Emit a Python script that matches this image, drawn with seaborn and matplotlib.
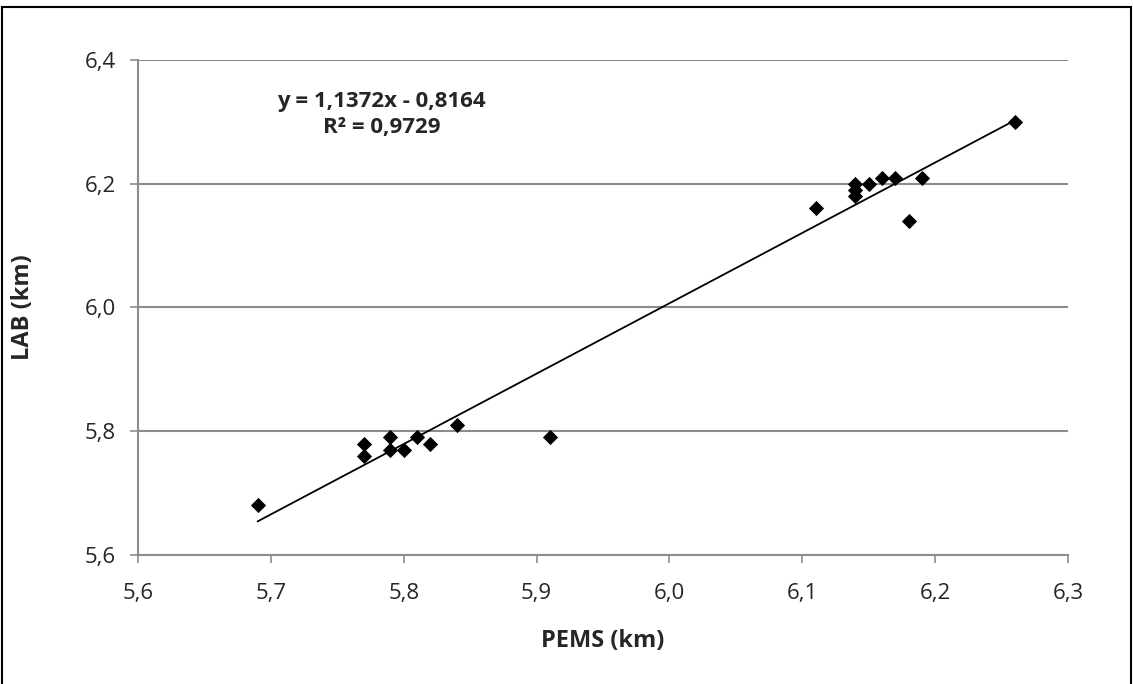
import numpy as np
import pandas as pd
import matplotlib
matplotlib.use("Agg")
import matplotlib.pyplot as plt
import seaborn as sns
from matplotlib.ticker import FuncFormatter, MultipleLocator
from matplotlib.patches import Rectangle

pems = [5.69, 5.77, 5.77, 5.79, 5.79, 5.80, 5.81, 5.82, 5.84, 5.91,
        6.11, 6.14, 6.14, 6.14, 6.15, 6.16, 6.17, 6.18, 6.19, 6.26]
lab = [5.68, 5.78, 5.76, 5.79, 5.77, 5.77, 5.79, 5.78, 5.81, 5.79,
       6.16, 6.20, 6.19, 6.18, 6.20, 6.21, 6.21, 6.14, 6.21, 6.30]
slope = 1.1372
intercept = -0.8164
eq_text = "y = 1,1372x - 0,8164"
r2_text = "R² = 0,9729"

df = pd.DataFrame({"PEMS": pems, "LAB": lab})

sns.set_style("white")
plt.rcParams['font.family'] = ['Open Sans', 'DejaVu Sans']

fig = plt.figure(figsize=(11.33, 6.84), dpi=100)
ax = fig.add_axes([0.1218, 0.1886, 0.9426 - 0.1218, 0.9123 - 0.1886])

sns.scatterplot(data=df, x="PEMS", y="LAB", marker="D", s=60, color="black",
                edgecolor="black", linewidth=0, ax=ax, zorder=3)
xs = np.array([min(pems), max(pems)])
sns.lineplot(x=xs, y=slope * xs + intercept, color="black", linewidth=1.3, ax=ax, zorder=2)

ax.set_xlim(5.6, 6.3)
ax.set_ylim(5.6, 6.4)
ax.xaxis.set_major_locator(MultipleLocator(0.1))
ax.yaxis.set_major_locator(MultipleLocator(0.2))
fmt = FuncFormatter(lambda v, p: f"{v:.1f}".replace(".", ","))
ax.xaxis.set_major_formatter(fmt)
ax.yaxis.set_major_formatter(fmt)
ax.grid(axis="y", color="#8c8c8c", linewidth=1.5)
ax.grid(axis="x", visible=False)
ax.set_axisbelow(True)
for s in ["top", "right"]:
    ax.spines[s].set_visible(False)
for s in ["left", "bottom"]:
    ax.spines[s].set_color("#8c8c8c")
    ax.spines[s].set_linewidth(1.5)
ax.tick_params(axis="both", which="major", direction="out", length=6, width=1.2,
               color="#8c8c8c", labelsize=16, bottom=True, left=True)
ax.tick_params(axis="x", pad=14)
ax.tick_params(axis="y", pad=10)
ax.set_xlabel("PEMS (km)", fontsize=17, fontweight="bold", labelpad=18)
ax.set_ylabel("LAB (km)", fontsize=17, fontweight="bold", labelpad=36)

ax.text(0.262, 0.917, eq_text, transform=ax.transAxes, ha="center", va="center",
        fontsize=16, fontweight="bold")
ax.text(0.262, 0.863, r2_text, transform=ax.transAxes, ha="center", va="center",
        fontsize=16, fontweight="bold")

fig.patches.append(Rectangle((0.002, -0.01), 0.996, 1.0, transform=fig.transFigure,
                             fill=False, edgecolor="black", linewidth=1.5))

fig.savefig("out.png", dpi=100)
